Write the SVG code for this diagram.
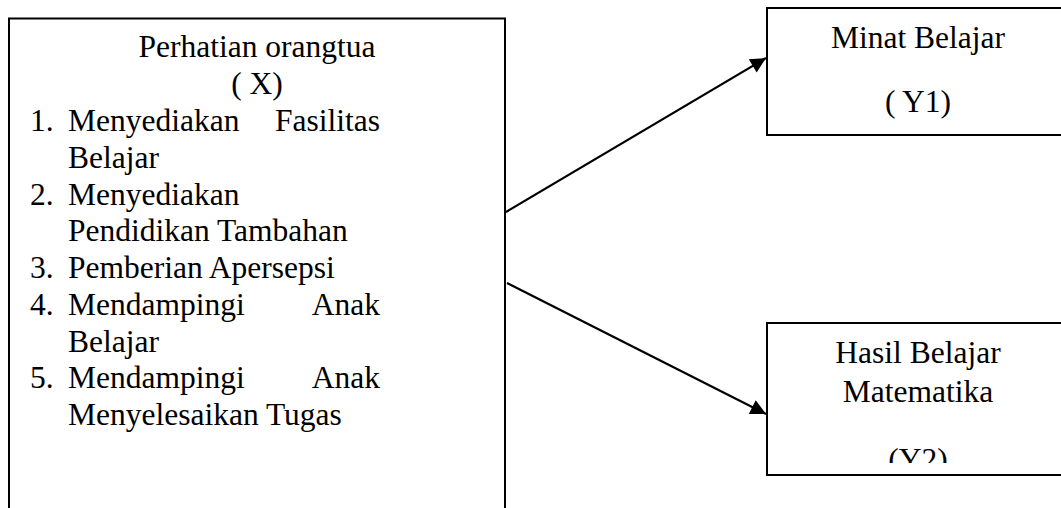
<svg xmlns="http://www.w3.org/2000/svg" width="1061" height="508" viewBox="0 0 1061 508">
  <style>
    .box { fill: #ffffff; stroke: #000000; stroke-width: 2; }
    .t { font-family: "Liberation Serif", "Times New Roman", serif; font-size: 31.5px; fill: #000000; }
    .c { text-anchor: middle; }
    .e { text-anchor: end; }
    .link { fill: none; stroke: #000000; stroke-width: 2.2; }
  </style>
  <defs>
    <marker id="arrow" viewBox="0 0 10 10" refX="10" refY="5" markerWidth="8" markerHeight="7" markerUnits="strokeWidth" orient="auto">
      <path d="M0,0 L10,5 L0,10 Z" fill="#000000"/>
    </marker>
    <clipPath id="clipY2">
      <rect x="767" y="323" width="300" height="140"/>
    </clipPath>
  </defs>
  <rect width="1061" height="508" fill="#ffffff"/>

  <!-- independent variable -->
  <g id="node-x">
    <rect class="box" x="9" y="18.5" width="496" height="520"/>
    <text class="t c" x="257" y="57">Perhatian orangtua</text>
    <text class="t c" x="257" y="94">( X)</text>
    <text class="t" x="30" y="131">1.</text>
    <text class="t" x="68" y="131">Menyediakan</text>
    <text class="t e" x="380" y="131">Fasilitas</text>
    <text class="t" x="68" y="168">Belajar</text>
    <text class="t" x="30" y="205">2.</text>
    <text class="t" x="68" y="205">Menyediakan</text>
    <text class="t" x="68" y="241">Pendidikan Tambahan</text>
    <text class="t" x="30" y="278">3.</text>
    <text class="t" x="68" y="278">Pemberian Apersepsi</text>
    <text class="t" x="30" y="315">4.</text>
    <text class="t" x="68" y="315">Mendampingi</text>
    <text class="t e" x="380" y="315">Anak</text>
    <text class="t" x="68" y="352">Belajar</text>
    <text class="t" x="30" y="388">5.</text>
    <text class="t" x="68" y="388">Mendampingi</text>
    <text class="t e" x="380" y="388">Anak</text>
    <text class="t" x="68" y="425">Menyelesaikan Tugas</text>
  </g>

  <!-- dependent variable Y1 -->
  <g id="node-y1">
    <rect class="box" x="767" y="8" width="310" height="127"/>
    <text class="t c" x="918" y="48">Minat Belajar</text>
    <text class="t c" x="918" y="112">( Y1)</text>
  </g>

  <!-- dependent variable Y2 -->
  <g id="node-y2">
    <rect class="box" x="767" y="323" width="310" height="152"/>
    <text class="t c" x="918" y="363">Hasil Belajar</text>
    <text class="t c" x="918" y="402">Matematika</text>
    <text class="t c" x="918" y="470" clip-path="url(#clipY2)">(Y2)</text>
  </g>

  <!-- connectors -->
  <g id="connectors">
    <line class="link" x1="506" y1="212" x2="766" y2="58" marker-end="url(#arrow)"/>
    <line class="link" x1="507" y1="283" x2="766" y2="414" marker-end="url(#arrow)"/>
  </g>
</svg>
